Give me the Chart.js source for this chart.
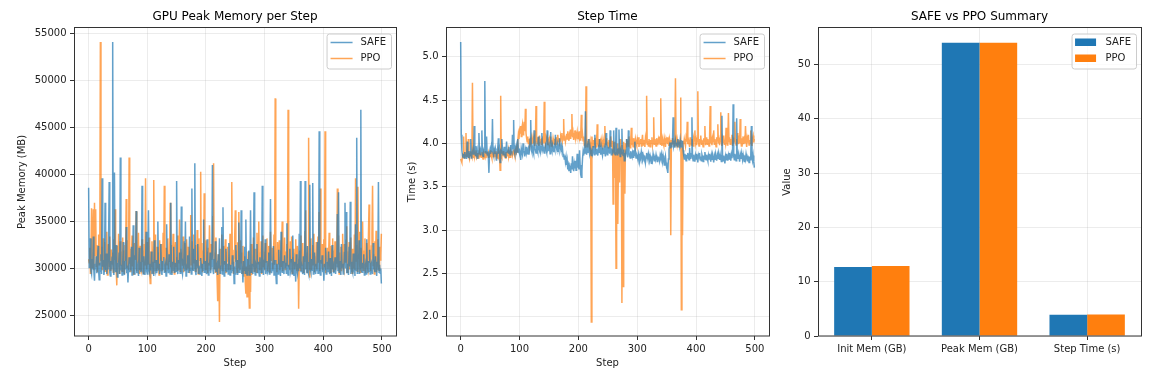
<!DOCTYPE html>
<html><head><meta charset="utf-8">
<script src="https://cdn.jsdelivr.net/npm/chart.js@4.4.0/dist/chart.umd.min.js"></script>
<style>
html,body{margin:0;padding:0;background:#fff;width:1153px;height:377px;overflow:hidden}
canvas{position:absolute;left:0;top:0}
</style></head><body>
<canvas id="c1" width="1153" height="377"></canvas>
<canvas id="c2" width="1153" height="377"></canvas>
<canvas id="c3" width="1153" height="377"></canvas>
<script>
// ---------------- DATA ----------------
const stepTicks = [0, 100, 200, 300, 400, 500];
const memTicks = [25000, 30000, 35000, 40000, 45000, 50000, 55000];
const timeTicks = [2.0, 2.5, 3.0, 3.5, 4.0, 4.5, 5.0];
const valueTicks = [0, 10, 20, 30, 40, 50];
const seriesNames = ['SAFE', 'PPO'];
const summaryCategories = ['Init Mem (GB)', 'Peak Mem (GB)', 'Step Time (s)'];
const summarySafe = [12.7, 54.0, 3.92];
const summaryPpo = [12.9, 54.0, 3.98];

const safeMem = [
38600,30100,30800,33200,29700,29400,31000,29900,33400,29600,28700,30500,29900,31300,29500,30200,32400,29800,28800,30600,
29700,31500,29400,39600,30200,30900,29300,29900,37000,29800,31600,29400,30300,29900,32700,39200,29600,29200,30800,29900,
31200,54100,29800,29300,40200,30300,29600,32500,30000,29100,30600,30100,31700,29400,41800,29800,30400,29300,30200,32800,
29700,29300,30800,29900,34400,29500,30300,28500,30000,31200,29600,30500,29800,32300,29300,30100,34600,29700,29400,31400,
29900,36100,29500,30400,30000,29200,32200,29800,30700,29600,30100,38800,29800,29400,31300,30200,29300,30300,33900,29700,
29400,30900,36200,29900,29600,30500,29800,31800,29400,30100,30700,29200,33000,30000,29700,30900,29500,29900,35000,29800,
30500,29400,30200,32600,29800,29300,30800,29900,31200,29600,30000,30400,29200,34700,29800,30300,29500,31500,29900,29400,
37000,30100,29300,30700,29800,32300,29600,30000,30600,29700,39300,29900,29400,30900,29800,31700,29500,30300,36600,29800,
29400,30400,30000,32900,29700,35000,29200,30200,29900,31400,29600,30600,33400,29800,30100,29400,38500,30400,29800,32100,
30000,41200,29700,29300,30900,30100,32600,29500,30300,29900,29400,31100,30200,29200,30500,29800,35200,29600,30000,30800,
29800,29400,33100,30100,29300,30600,29700,31700,29500,30200,30700,41000,29800,29400,31000,29900,32900,29600,30100,30400,
29300,31500,30000,33200,29500,30300,29800,34400,29400,36500,29900,29200,30800,29800,32100,29600,30100,30500,29400,32700,
29900,29300,30400,30000,29500,31400,29700,30700,28400,30200,29400,32500,29800,30900,29300,30000,34900,29600,30500,29900,
36200,29400,30200,28500,30800,29800,32300,29500,35200,29900,29300,31000,29800,31900,29300,30100,36200,29600,30500,30000,
29400,31600,38100,29800,29300,30400,30100,32600,29500,30700,29700,29200,31200,30000,29600,30900,38800,29800,29300,30300,
29900,33100,29400,30100,30800,29600,29800,31700,29400,30400,37400,29900,29500,30600,29700,32400,29300,30000,30900,29600,
28400,30500,30000,29400,32000,29800,30300,29200,33900,29900,29600,30800,29800,29400,31400,30100,30600,29500,34800,29700,
29300,30400,30000,32100,29600,29900,31000,29400,33500,29800,29200,30700,30200,28600,31500,29900,29500,30500,29700,33700,
30000,39300,29600,30300,29800,29400,31300,30100,29300,39300,29900,30800,29500,32400,29700,29400,30600,38900,29900,29600,
31000,29800,39100,29400,30200,31700,29900,29400,30500,29700,32800,29500,30300,44600,29800,29300,30900,30000,31400,29600,
30100,28700,30500,29900,32200,29400,30100,30700,29600,31800,29800,29400,31100,30000,29200,32500,30200,30400,29500,29900,
31200,29400,30600,30100,35800,29700,38100,29600,30800,29900,29300,32600,30100,30500,29400,29900,31700,37000,30000,36000,
29500,30500,29800,29300,32300,30200,37100,29400,30700,29900,29600,31600,30000,30300,29200,34700,29800,43900,29500,30400,
29900,33000,29400,30900,46900,29800,29600,30600,30100,31500,29300,30000,30400,29400,33100,29900,29500,30800,29700,32000,
29400,30200,30500,29800,29400,32700,29900,30300,29600,31300,30100,29200,30700,29800,39200,29600,30400,29500,30000,28400
];

const ppoMem = [
31000,30600,32200,29500,31700,36400,30100,33000,36300,29800,37000,31400,36300,30200,32500,29600,31900,33600,30400,31200,
54100,30800,32300,29900,31500,33200,30100,32800,29700,31600,30400,33900,29300,31800,32600,30200,33400,29800,31100,32000,
30500,31700,29600,33100,30900,36300,31300,29900,28200,32400,30700,33700,29500,31200,32900,30300,31800,29700,33300,30600,
31900,29400,32500,30800,37400,30000,31600,33000,29800,41800,30500,32100,29600,31400,33500,30200,31000,29300,32700,30900,
31500,36100,29700,32200,30600,33800,29500,31300,32400,30100,29800,33100,30700,31900,29400,32600,30300,39600,31100,29900,
32800,30400,31600,33300,29600,28400,31800,30200,32900,30800,29500,39400,31200,30600,33600,29800,31400,32300,30000,31700,
29300,33000,30900,31500,32600,29700,30300,33800,31100,38800,30500,29600,32200,31000,30400,33200,29900,31600,30700,37000,
30100,32500,29500,31300,33700,30800,29400,31900,32800,30200,31200,29800,33500,30600,31500,35200,29700,32100,30900,31700,
30300,33400,29600,31100,32700,30500,29900,33100,31400,30000,32300,30700,29500,31800,35700,30400,32900,29800,31300,33600,
30600,31000,29700,32500,30200,34100,31600,29400,33200,30800,31500,40300,30100,32700,29600,31900,30500,38000,31200,29900,
33000,30700,31800,29500,32200,30300,34600,31100,29800,32600,30900,31400,35500,41200,30000,31700,29600,33300,30400,28900,
26500,31500,30200,24300,32100,29900,31300,33600,30600,29700,32400,31000,30400,33100,29500,31800,30800,32300,29900,31200,
30300,33700,29800,31600,39200,30500,32000,29400,31100,33400,36200,30700,31900,29600,32800,30100,36000,31400,29800,33000,
30600,31700,29500,32400,30900,29200,31300,28600,27300,30200,27000,29400,31800,28100,25800,30400,27500,32600,29300,31000,
30700,33300,29700,31500,32100,30200,29600,33800,31200,30500,35000,29900,31700,30800,32900,29400,31300,33500,30100,31800,
29800,32700,30600,31400,33200,29700,31000,32400,30300,29500,33900,31600,30800,32200,29900,31200,33600,30400,48100,30900,
31700,29600,32800,30500,31300,33000,29800,31900,30200,32500,35000,29700,31400,30600,33300,29900,31800,30300,32600,31100,
46900,30100,31500,29800,32900,30700,33400,29500,31200,30400,32100,29900,31600,33100,30200,29700,32400,31000,25700,30600,
31900,29800,33500,30300,31400,32700,29600,31100,30700,33900,36200,30000,31700,29500,32300,43900,30800,29000,31500,33200,
29800,31000,32500,30400,33700,29600,31300,30200,32800,29900,31600,33400,30600,36000,29700,38500,31200,30500,32600,29800,
31400,33100,30100,44600,29500,31800,30800,32200,29900,31100,33800,30300,29600,32400,31500,30000,33200,29700,31900,30700,
32900,29800,31300,30500,38500,30100,33500,29400,31700,30900,32300,29700,31100,33700,30200,29900,32600,31400,30600,33000,
34500,29600,31800,30300,32800,29900,31200,33300,30700,29500,32100,31500,30000,33600,29800,39600,30800,32500,29700,38700,
31000,33900,30400,29600,32200,31400,30100,35000,29800,31900,30500,33200,29500,31300,32700,30200,29900,33600,36800,30600,
31100,29700,32400,33800,38800,30300,31500,29400,32900,30800,34000,29600,31700,33100,30200,29800,32300,30900,31400,33700
];

const safeTime = [
5.17,4.10,3.92,3.86,3.84,3.88,3.83,3.90,3.85,3.87,3.82,4.02,3.86,3.84,3.91,3.85,3.88,4.05,3.83,3.87,
3.89,3.93,3.87,4.20,3.90,3.86,3.97,3.88,3.92,3.82,3.90,4.12,3.89,3.87,3.93,3.91,4.15,3.88,3.85,3.92,
3.90,4.72,3.94,3.88,4.08,3.87,3.91,3.84,3.66,3.89,3.93,3.88,3.95,3.90,4.28,3.89,3.86,3.92,3.88,3.94,
3.90,3.80,3.89,3.95,4.06,3.88,3.92,3.78,3.91,3.89,4.05,3.93,3.87,3.90,3.96,3.88,3.84,3.92,4.02,3.90,
3.93,3.89,3.96,3.91,3.87,3.98,3.92,3.90,4.10,3.94,4.27,3.91,3.88,3.95,3.92,3.97,3.90,4.05,3.94,3.91,
3.92,3.88,3.81,3.94,3.90,3.87,4.00,3.92,3.89,3.85,3.93,3.90,3.96,3.88,3.91,3.94,3.87,3.92,4.05,4.27,
3.93,3.90,3.95,3.91,3.88,4.15,3.94,3.92,3.89,3.96,3.93,3.90,4.08,3.95,3.92,3.97,3.91,3.94,4.12,3.93,
3.96,3.92,3.89,3.95,3.98,3.93,3.90,4.15,3.94,3.97,3.91,3.96,3.88,4.13,3.95,3.92,3.98,3.94,3.90,3.96,
3.93,4.10,3.97,3.94,3.91,3.98,3.95,3.92,4.06,3.96,3.93,3.97,3.90,3.94,3.85,3.88,3.82,3.86,3.79,3.84,
3.75,3.80,3.70,3.78,3.68,3.74,3.72,3.66,3.77,3.70,3.85,3.73,3.68,3.76,3.71,3.80,3.69,3.74,3.88,3.72,
3.78,3.70,3.92,3.75,3.64,3.61,3.68,3.82,3.90,3.86,3.93,3.88,4.37,3.91,3.87,3.94,3.89,4.05,3.92,3.88,
3.95,3.90,3.86,3.93,3.89,3.97,3.91,3.87,4.10,3.92,3.88,3.94,3.90,3.86,3.93,3.89,4.05,3.91,3.87,3.95,
3.90,3.86,3.92,3.88,3.94,3.89,3.85,4.12,3.91,3.87,3.93,3.90,3.96,3.88,4.15,3.92,3.87,3.94,3.89,3.91,
4.15,3.88,3.93,3.86,4.18,3.90,3.87,3.94,3.89,4.16,3.92,3.85,3.91,3.88,4.17,3.90,3.86,3.93,3.80,3.89,
3.85,3.92,4.05,3.88,3.84,4.15,3.90,3.86,3.83,3.91,3.87,3.85,3.89,3.84,3.92,3.86,4.02,3.88,3.83,3.87,
3.85,3.82,3.88,3.84,3.79,3.86,3.83,3.90,3.85,3.81,3.87,3.84,3.80,3.86,3.78,3.83,3.89,3.85,3.82,3.88,
3.84,3.80,3.86,3.83,3.77,3.85,3.81,3.88,3.84,3.80,3.86,3.82,3.87,3.83,3.79,3.85,3.81,3.84,3.80,3.86,
3.83,3.88,3.84,3.79,3.86,3.82,3.75,3.80,3.85,3.78,3.72,3.70,3.66,3.82,3.93,3.98,3.95,4.01,3.96,3.99,
4.02,4.30,3.97,4.00,3.95,4.03,3.98,4.01,3.96,4.05,3.99,4.02,3.97,4.04,3.98,4.00,3.95,4.03,3.92,3.86,
3.82,3.88,3.84,3.80,3.87,3.83,3.89,3.85,3.81,3.95,3.86,3.82,3.88,4.30,3.84,3.80,3.87,3.83,3.79,3.86,
3.82,3.88,3.84,3.78,3.86,3.83,3.89,3.81,3.85,3.80,3.87,3.84,3.79,3.86,3.82,3.90,3.85,3.81,3.87,3.83,
3.80,3.86,3.82,3.88,3.84,3.79,3.86,3.81,3.87,3.83,3.78,3.85,3.81,3.88,3.84,3.80,3.86,3.82,3.89,3.85,
3.81,3.87,3.83,3.79,4.32,3.85,3.80,3.86,3.82,3.77,3.85,3.81,3.88,3.84,3.80,3.86,3.82,3.89,3.84,3.80,
3.87,3.83,3.90,4.45,3.85,3.81,3.88,3.84,3.80,4.29,3.86,3.82,3.88,3.84,3.79,3.86,3.82,3.89,3.85,3.81,
3.87,3.83,3.79,3.86,3.82,3.88,3.84,3.80,3.86,3.82,3.78,3.85,3.81,3.87,4.20,3.84,3.80,3.86,3.79,3.72
];

const ppoTime = [
3.82,3.80,3.78,3.85,3.88,4.08,3.83,3.90,3.86,4.12,3.84,3.89,3.87,4.05,3.85,3.82,3.88,3.91,3.86,3.84,
4.70,3.87,3.83,3.90,3.85,3.88,3.92,3.84,3.86,3.89,3.83,3.87,3.91,3.85,3.88,3.84,3.90,3.86,3.82,3.89,
3.87,3.85,3.91,3.83,3.88,3.86,3.90,3.84,3.89,3.87,3.85,3.92,3.86,3.83,3.89,3.88,3.84,3.90,3.87,3.85,
3.91,3.86,3.83,3.88,3.92,3.85,3.87,3.69,4.55,3.86,3.84,3.89,3.87,3.91,3.85,3.88,3.83,3.90,3.86,3.89,
3.87,3.92,3.85,3.88,3.84,3.90,3.87,3.91,3.86,3.89,3.93,3.88,3.85,3.91,3.87,3.94,3.90,4.02,4.10,4.05,
4.15,4.12,4.20,4.08,4.18,4.22,4.10,4.17,4.25,4.14,4.40,4.12,4.06,4.02,4.08,4.00,4.05,3.98,4.04,4.01,
4.06,3.99,4.03,4.08,4.00,4.05,3.97,4.02,4.43,4.04,4.00,4.07,3.98,4.03,4.09,4.01,4.05,3.99,4.06,4.02,
4.08,4.00,4.48,4.04,3.99,4.06,4.02,4.07,3.98,4.03,4.00,4.05,4.01,4.08,3.97,4.04,4.00,4.06,4.02,3.99,
4.05,4.01,4.07,3.98,4.04,4.10,4.02,4.06,4.00,4.03,4.08,4.05,4.12,4.03,4.07,4.28,4.04,4.09,4.02,4.06,
4.11,4.05,4.14,4.08,4.03,4.10,4.06,4.16,4.09,4.34,4.07,4.12,4.04,4.09,4.15,4.06,4.11,4.08,4.13,4.05,
4.10,4.07,4.14,4.04,4.09,4.33,4.06,4.11,4.03,4.08,3.98,4.02,3.95,4.66,4.00,3.96,4.03,3.99,4.05,3.97,
4.02,3.94,1.94,4.08,4.00,3.96,4.04,3.99,4.06,3.98,4.03,3.95,4.22,4.01,3.97,4.05,3.99,4.02,3.96,4.04,
4.00,3.97,4.05,4.01,3.96,4.20,4.03,3.99,4.06,3.98,4.02,3.95,4.04,4.00,3.97,4.08,4.01,3.96,4.03,3.30,
3.95,4.02,3.60,3.90,2.56,3.85,4.00,3.07,3.70,3.95,3.55,4.05,3.80,3.98,2.16,3.90,2.35,4.02,3.75,3.42,
4.00,3.96,4.05,3.99,4.03,3.97,4.08,4.01,3.95,4.04,4.18,3.98,4.02,3.96,4.06,4.00,3.97,4.05,4.01,3.98,
4.04,3.99,4.07,3.96,4.02,4.00,4.05,3.97,4.03,4.10,3.98,4.04,4.00,3.96,4.06,4.01,4.55,3.99,4.03,3.97,
4.05,4.01,3.96,4.04,4.00,4.07,3.98,4.03,4.30,3.99,4.05,4.01,3.97,4.06,4.02,3.98,4.04,4.00,4.08,3.99,
4.52,4.03,3.97,4.05,4.01,3.98,4.06,4.02,3.96,4.04,4.00,4.07,3.99,4.03,3.97,4.05,4.01,2.94,4.04,3.98,
4.06,4.00,4.03,3.97,4.08,4.75,4.02,3.99,4.05,4.01,3.96,4.04,4.00,3.98,4.53,2.08,3.95,2.94,4.03,3.99,
4.05,4.01,3.97,4.06,4.02,4.25,3.99,4.04,4.00,3.96,4.07,4.02,3.98,4.05,4.01,3.97,4.06,4.03,4.15,4.00,
4.04,3.98,4.06,4.60,4.02,3.97,4.05,4.01,4.09,3.99,4.04,4.00,3.96,4.06,4.02,4.20,3.98,4.03,4.07,3.99,
4.05,4.01,3.97,4.08,4.43,4.00,4.04,3.98,4.06,4.02,4.15,3.99,4.05,4.01,3.96,4.07,4.03,4.22,4.00,4.04,
3.98,4.06,4.36,4.02,3.97,4.05,4.01,4.09,3.99,4.04,4.00,4.18,4.03,3.98,4.06,4.35,4.02,4.07,3.99,4.05,
4.01,4.10,3.97,4.04,4.00,4.06,4.25,4.02,3.98,4.05,4.01,4.12,3.99,4.04,4.00,4.28,4.03,3.97,4.06,4.02,
4.08,3.99,4.04,4.00,4.20,4.03,3.96,4.05,4.01,4.10,3.98,4.04,4.00,4.15,4.02,3.97,4.06,4.09,4.01,4.05
];

const steps = safeMem.map((_, i) => i);

// ---------------- STYLE ----------------
const FONT = "'DejaVu Sans', 'Liberation Sans', sans-serif";
Chart.defaults.font.family = FONT;
Chart.defaults.font.size = 10;
Chart.defaults.color = '#222';
const SPINE = '#333';
const GRID = 'rgba(176,176,176,0.3)';
const BLUE = '#1f77b4', ORANGE = '#ff7f0e';
const BLUE_A = 'rgba(31,119,180,0.7)', ORANGE_A = 'rgba(255,127,14,0.7)';

function decor(title, items) {
  return {
    id: 'decor',
    afterDraw(chart) {
      const ctx = chart.ctx, a = chart.chartArea;
      ctx.save();
      ctx.strokeStyle = SPINE; ctx.lineWidth = 1;
      ctx.strokeRect(Math.round(a.left) + 0.5, Math.round(a.top) - 0.5,
                     Math.round(a.right - a.left), Math.round(a.bottom - a.top) + 0.5);
      ctx.fillStyle = '#000';
      ctx.font = '12px ' + FONT;
      ctx.textAlign = 'center'; ctx.textBaseline = 'middle';
      ctx.fillText(title, (a.left + a.right) / 2, 16.5);
      // legend
      ctx.font = '10px ' + FONT;
      const tw = Math.max(...items.map(it => ctx.measureText(it.label).width));
      const w = 34 + tw + 5, h = 35;
      const x = a.right - 5 - w, y = a.top + 5.5;
      ctx.beginPath();
      if (ctx.roundRect) ctx.roundRect(x + 0.5, y + 0.5, w, h, 2.5); else ctx.rect(x + 0.5, y + 0.5, w, h);
      ctx.fillStyle = 'rgba(255,255,255,0.8)'; ctx.fill();
      ctx.strokeStyle = '#cccccc'; ctx.lineWidth = 1; ctx.stroke();
      items.forEach((it, i) => {
        const ry = y + 9 + i * 16;
        if (it.type === 'line') {
          ctx.strokeStyle = it.color; ctx.lineWidth = 1.5;
          ctx.beginPath(); ctx.moveTo(x + 4, ry); ctx.lineTo(x + 26, ry); ctx.stroke();
        } else {
          ctx.fillStyle = it.color; ctx.fillRect(x + 3.5, ry - 4, 21, 7.5);
        }
        ctx.fillStyle = '#222'; ctx.textAlign = 'left'; ctx.textBaseline = 'middle';
        ctx.fillText(it.label, x + 34, ry);
      });
      ctx.restore();
    }
  };
}

function gridOpts(extra) {
  return Object.assign({ color: GRID, lineWidth: 0.8, drawTicks: true, tickLength: 4, tickColor: SPINE, tickWidth: 1 }, extra || {});
}

function lineChart(id, padL, padR, yWidth, yMin, yMax, yTickVals, yFmt, yTitle, title, d1, d2) {
  return new Chart(document.getElementById(id), {
    type: 'line',
    data: {
      labels: steps,
      datasets: [
        { label: seriesNames[0], data: d1, borderColor: BLUE_A, borderWidth: 1.5, pointRadius: 0, tension: 0, fill: false },
        { label: seriesNames[1], data: d2, borderColor: ORANGE_A, borderWidth: 1.5, pointRadius: 0, tension: 0, fill: false }
      ]
    },
    options: {
      responsive: false, animation: false, devicePixelRatio: 1, events: [],
      layout: { padding: { left: padL, right: padR, top: 28, bottom: 0 } },
      plugins: { legend: { display: false }, title: { display: false }, tooltip: { enabled: false } },
      scales: {
        x: {
          type: 'linear', min: -24.95, max: 523.95, bounds: 'data',
          afterBuildTicks: s => { s.ticks = stepTicks.map(v => ({ value: v })); },
          afterFit: s => { s.height = 41; },
          ticks: { autoSkip: false, maxRotation: 0, padding: 3, callback: v => String(v) },
          grid: gridOpts(), border: { display: false },
          title: { display: true, text: 'Step', padding: { top: 0, bottom: 7.5 }, color: '#222' }
        },
        y: {
          type: 'linear', min: yMin, max: yMax, bounds: 'data',
          afterBuildTicks: s => { s.ticks = yTickVals.map(v => ({ value: v })); },
          afterFit: s => { s.width = yWidth; },
          ticks: { autoSkip: false, padding: 3.5, callback: yFmt },
          grid: gridOpts(), border: { display: false },
          title: { display: true, text: yTitle, padding: { top: 6.3, bottom: 0 }, color: '#222' }
        }
      }
    },
    plugins: [decor(title, [
      { type: 'line', label: seriesNames[0], color: BLUE_A },
      { type: 'line', label: seriesNames[1], color: ORANGE_A }
    ])]
  });
}

lineChart('c1', 10, 1153 - 396, 64, 22810, 55590, memTicks, v => String(v), 'Peak Memory (MB)', 'GPU Peak Memory per Step', safeMem, ppoMem);
lineChart('c2', 400, 1153 - 769, 46, 1.778, 5.331, timeTicks, v => Number(v).toFixed(1), 'Time (s)', 'Step Time', safeTime, ppoTime);

new Chart(document.getElementById('c3'), {
  type: 'bar',
  data: {
    labels: summaryCategories,
    datasets: [
      { label: seriesNames[0], data: summarySafe, backgroundColor: BLUE, borderWidth: 0, categoryPercentage: 0.7, barPercentage: 1.0 },
      { label: seriesNames[1], data: summaryPpo, backgroundColor: ORANGE, borderWidth: 0, categoryPercentage: 0.7, barPercentage: 1.0 }
    ]
  },
  options: {
    responsive: false, animation: false, devicePixelRatio: 1, events: [],
    layout: { padding: { left: 775, right: 1153 - 1141, top: 28, bottom: 0 } },
    plugins: { legend: { display: false }, title: { display: false }, tooltip: { enabled: false } },
    scales: {
      x: {
        type: 'category', offset: true,
        afterFit: s => { s.height = 41; },
        ticks: { autoSkip: false, maxRotation: 0, padding: 3 },
        grid: gridOpts({ offset: false }), border: { display: false }
      },
      y: {
        type: 'linear', min: 0, max: 56.7, bounds: 'data',
        afterBuildTicks: s => { s.ticks = valueTicks.map(v => ({ value: v })); },
        afterFit: s => { s.width = 43; },
        ticks: { autoSkip: false, padding: 3.5, callback: v => String(v) },
        grid: gridOpts(), border: { display: false },
        title: { display: true, text: 'Value', padding: { top: 6.3, bottom: 0 }, color: '#222' }
      }
    }
  },
  plugins: [decor('SAFE vs PPO Summary', [
    { type: 'box', label: seriesNames[0], color: BLUE },
    { type: 'box', label: seriesNames[1], color: ORANGE }
  ])]
});
</script>
</body></html>
